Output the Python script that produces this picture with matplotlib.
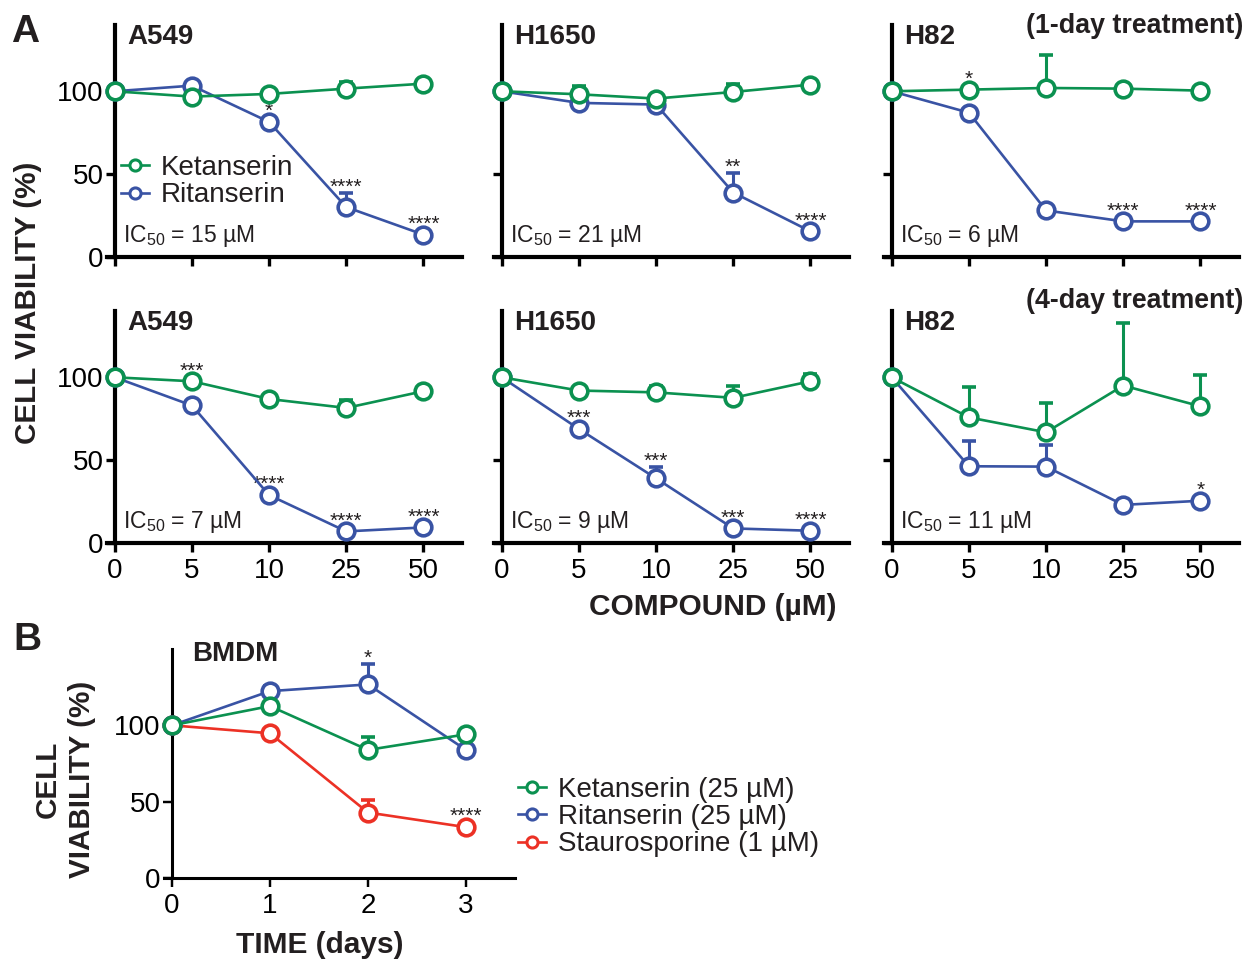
import numpy as np
import matplotlib.pyplot as plt
from matplotlib.lines import Line2D

plt.rcParams['font.family'] = ['Liberation Sans', 'DejaVu Sans']
plt.rcParams['mathtext.fontset'] = 'custom'
plt.rcParams['mathtext.rm'] = 'Liberation Sans'
plt.rcParams['text.color'] = '#231f20'

GREEN = '#0b9150'
BLUE = '#3953a4'
RED = '#ec3125'

# ---------------- data (viability %) ----------------
doses = ['0', '5', '10', '25', '50']

# 1-day treatment
a549_1d_ket = [100, 96.8, 98.4, 101.6, 104.6]
a549_1d_ket_err = [0, 0, 0, 4, 0]
a549_1d_rit = [100, 103.4, 81.5, 30.1, 13.5]
a549_1d_rit_err = [0, 0, 0, 8.5, 0]
a549_1d_ket_stars = ['', '', '', '', '']
a549_1d_rit_stars = ['', '', '*', '****', '****']

h1650_1d_ket = [100, 98.2, 95.6, 99.6, 104]
h1650_1d_ket_err = [0, 4.8, 0, 5, 0]
h1650_1d_rit = [100, 93, 92, 38.9, 15.5]
h1650_1d_rit_err = [0, 0, 0, 11.8, 0]
h1650_1d_ket_stars = ['', '', '', '', '']
h1650_1d_rit_stars = ['', '', '', '**', '****']

h82_1d_ket = [100, 101, 102, 101.6, 100.4]
h82_1d_ket_err = [0, 0, 19.9, 0, 0]
h82_1d_rit = [100, 87.1, 28.1, 21.5, 21.5]
h82_1d_rit_err = [0, 0, 0, 0, 0]
h82_1d_ket_stars = ['', '*', '', '', '']
h82_1d_rit_stars = ['', '', '', '****', '****']

# 4-day treatment
a549_4d_ket = [100, 97.6, 86.9, 81.5, 91.6]
a549_4d_ket_err = [0, 0, 0, 5, 0]
a549_4d_rit = [100, 83, 28.9, 7, 9.4]
a549_4d_rit_err = [0, 0, 0, 0, 0]
a549_4d_ket_stars = ['', '***', '', '', '']
a549_4d_rit_stars = ['', '', '****', '****', '****']

h1650_4d_ket = [100, 92, 90.9, 87.6, 97.6]
h1650_4d_ket_err = [0, 0, 4.1, 7.4, 4.4]
h1650_4d_rit = [100, 68.8, 39, 8.8, 7.4]
h1650_4d_rit_err = [0, 0, 6.7, 0, 0]
h1650_4d_ket_stars = ['', '', '', '', '']
h1650_4d_rit_stars = ['', '***', '***', '***', '****']

h82_4d_ket = [100, 75.8, 66.8, 95, 82.5]
h82_4d_ket_err = [0, 18.2, 17.7, 37.9, 19]
h82_4d_rit = [100, 46.3, 46.1, 23, 25.5]
h82_4d_rit_err = [0, 15.5, 13.1, 0, 0]
h82_4d_ket_stars = ['', '', '', '', '']
h82_4d_rit_stars = ['', '', '', '', '*']

ic50_1d = ['15', '21', '6']
ic50_4d = ['7', '9', '11']
cell_lines = ['A549', 'H1650', 'H82']

# BMDM time course
days = ['0', '1', '2', '3']
bmdm_ket = [100, 112.6, 83.9, 94.1]
bmdm_ket_err = [0, 0, 8.3, 0]
bmdm_rit = [100, 122.4, 126.8, 83.9]
bmdm_rit_err = [0, 3.5, 13.7, 0]
bmdm_sta = [100, 94.8, 42.9, 33.3]
bmdm_sta_err = [0, 0, 8.3, 0]
bmdm_rit_stars = ['', '', '*', '']
bmdm_sta_stars = ['', '', '', '****']

# ---------------- plotting ----------------
W, H = 1249, 964
fig = plt.figure(figsize=(W / 100, H / 100), dpi=100)


def add_ax(left, bottom, width, height):
    return fig.add_axes([left / W, 1 - bottom / H, width / W, height / H])


def draw_series(ax, vals, err, color, stars):
    x = np.arange(len(vals))
    ax.errorbar(x, vals, yerr=[np.zeros(len(err)), err], color=color, lw=1.9,
                marker='o', ms=12, mfc='white', mec=color, mew=2.6,
                elinewidth=2.2, capsize=5, capthick=2.2, zorder=3, clip_on=False)
    for xi, (v, e, s) in enumerate(zip(vals, err, stars)):
        if s:
            off = 0 if e > 0 else 3.5
            ax.annotate(s, (xi, v + e), xytext=(0, off), textcoords='offset points',
                        ha='center', va='baseline', fontsize=15)


def style(ax, lw, xlabels, ylabels):
    for s in ['top', 'right']:
        ax.spines[s].set_visible(False)
    ax.spines['left'].set_position(('data', 0))
    ax.spines['left'].set_linewidth(lw)
    ax.spines['bottom'].set_linewidth(lw)
    ax.tick_params(direction='out', length=6.5, width=lw * 0.8, labelsize=20, pad=1.5)
    ax.tick_params(axis='x', pad=4.5)
    ax.set_yticks([0, 50, 100])
    ax.tick_params(labelleft=ylabels, labelbottom=xlabels)


rows = [
    [(a549_1d_ket, a549_1d_ket_err, a549_1d_rit, a549_1d_rit_err, a549_1d_ket_stars, a549_1d_rit_stars),
     (h1650_1d_ket, h1650_1d_ket_err, h1650_1d_rit, h1650_1d_rit_err, h1650_1d_ket_stars, h1650_1d_rit_stars),
     (h82_1d_ket, h82_1d_ket_err, h82_1d_rit, h82_1d_rit_err, h82_1d_ket_stars, h82_1d_rit_stars)],
    [(a549_4d_ket, a549_4d_ket_err, a549_4d_rit, a549_4d_rit_err, a549_4d_ket_stars, a549_4d_rit_stars),
     (h1650_4d_ket, h1650_4d_ket_err, h1650_4d_rit, h1650_4d_rit_err, h1650_4d_ket_stars, h1650_4d_rit_stars),
     (h82_4d_ket, h82_4d_ket_err, h82_4d_rit, h82_4d_rit_err, h82_4d_ket_stars, h82_4d_rit_stars)],
]
ic50s = [ic50_1d, ic50_4d]
col_left = [107, 494, 884]
row_bottom = [257, 543]

axes = []
for r in range(2):
    for c in range(3):
        ax = add_ax(col_left[c], row_bottom[r], 355, 232)
        ket, ket_e, rit, rit_e, ket_s, rit_s = rows[r][c]
        draw_series(ax, rit, rit_e, BLUE, rit_s)
        draw_series(ax, ket, ket_e, GREEN, ket_s)
        ax.set_xlim(-0.1, 4.5)
        ax.set_ylim(0, 140)
        ax.set_xticks(np.arange(len(doses)))
        ax.set_xticklabels(doses)
        style(ax, 3, r == 1, c == 0)
        ax.text(0.058, 0.92, cell_lines[c], transform=ax.transAxes, fontsize=20,
                fontweight='bold', va='baseline')
        ax.text(0.045, 0.063, r'IC$_{50}$ = ' + ic50s[r][c] + ' µM', transform=ax.transAxes,
                fontsize=16.5, va='baseline')
        axes.append(ax)

leg_handles = [Line2D([], [], color=GREEN, lw=1.9, marker='o', ms=8, mfc='white', mew=2.2),
               Line2D([], [], color=BLUE, lw=1.9, marker='o', ms=8, mfc='white', mew=2.2)]
axes[0].legend(leg_handles, ['Ketanserin', 'Ritanserin'], loc='center left',
               bbox_to_anchor=(0.0, 0.325), frameon=False, fontsize=20, borderpad=0,
               handlelength=1.0, handletextpad=0.43, labelspacing=0.05)

fig.text(1243 / W, 1 - 33 / H, '(1-day treatment)', ha='right', va='baseline',
         fontsize=19.3, fontweight='bold')
fig.text(1243 / W, 1 - 308 / H, '(4-day treatment)', ha='right', va='baseline',
         fontsize=19.3, fontweight='bold')
fig.text(11 / W, 1 - 42 / H, 'A', fontsize=28, fontweight='bold', va='baseline')
fig.text(28 / W, 1 - 303 / H, 'CELL VIABILITY (%)', rotation=90, ha='center', va='center',
         fontsize=21.3, fontweight='bold')
fig.text(713 / W, 1 - 615 / H, 'COMPOUND (µM)', ha='center', va='baseline',
         fontsize=21.5, fontweight='bold')

# panel B
axb = add_ax(164, 878, 351, 229)
draw_series(axb, bmdm_sta, bmdm_sta_err, RED, bmdm_sta_stars)
draw_series(axb, bmdm_rit, bmdm_rit_err, BLUE, bmdm_rit_stars)
draw_series(axb, bmdm_ket, bmdm_ket_err, GREEN, ['', '', '', ''])
axb.set_xlim(-0.08, 3.5)
axb.set_ylim(0, 150)
axb.set_xticks(np.arange(len(days)))
axb.set_xticklabels(days)
style(axb, 2.2, True, True)
axb.text(0.08, 0.948, 'BMDM', transform=axb.transAxes, fontsize=20, fontweight='bold',
         va='baseline')

b_handles = [Line2D([], [], color=c, lw=1.9, marker='o', ms=8, mfc='white', mew=2.2)
             for c in (GREEN, BLUE, RED)]
fig.legend(b_handles, ['Ketanserin (25 µM)', 'Ritanserin (25 µM)', 'Staurosporine (1 µM)'],
           loc='center left', bbox_to_anchor=(518 / W, 1 - 817 / H), frameon=False,
           fontsize=20, borderpad=0, borderaxespad=0, handlelength=1.0,
           handletextpad=0.43, labelspacing=0.05)

fig.text(13 / W, 1 - 650 / H, 'B', fontsize=28, fontweight='bold', va='baseline')
fig.text(65 / W, 1 - 779 / H, 'CELL\nVIABILITY (%)', rotation=90, ha='center', va='center',
         multialignment='center', fontsize=21.3, fontweight='bold', linespacing=1.3)
fig.text(320 / W, 1 - 953 / H, 'TIME (days)', ha='center', va='baseline',
         fontsize=21.5, fontweight='bold')

fig.savefig('out.png', dpi=100)
